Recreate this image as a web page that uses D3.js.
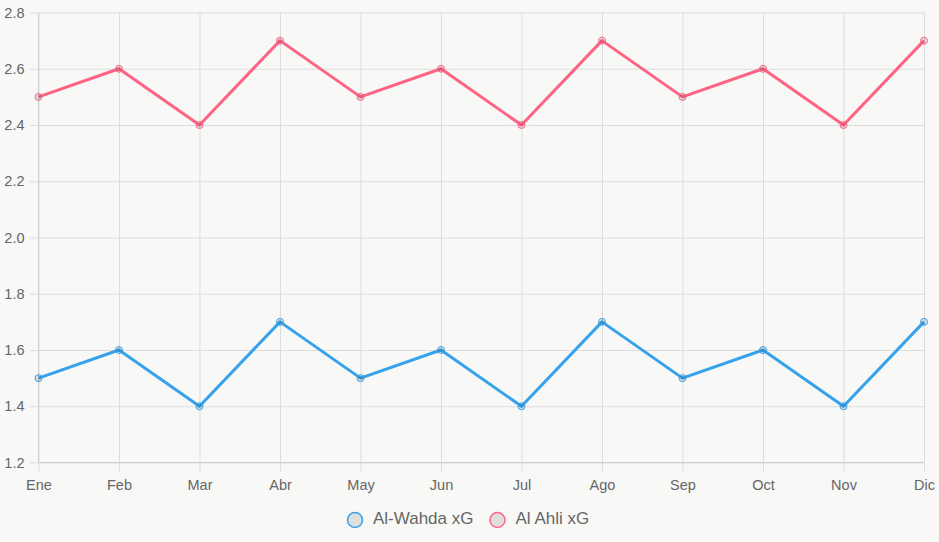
<!DOCTYPE html>
<html><head><meta charset="utf-8">
<script src="https://cdn.jsdelivr.net/npm/d3@7"></script>
<style>html,body{margin:0;padding:0;background:#f8f8f7;}svg{display:block;font-family:"Liberation Sans",Arial,Helvetica,sans-serif;}</style>
</head><body>
<svg id="c" width="939" height="542"></svg>
<script>
const months = ["Ene","Feb","Mar","Abr","May","Jun","Jul","Ago","Sep","Oct","Nov","Dic"];
const wahda = [1.5,1.6,1.4,1.7,1.5,1.6,1.4,1.7,1.5,1.6,1.4,1.7];
const ahli = [2.5,2.6,2.4,2.7,2.5,2.6,2.4,2.7,2.5,2.6,2.4,2.7];
const yTicks = [1.2,1.4,1.6,1.8,2.0,2.2,2.4,2.6,2.8];
const seriesNames = ["Al-Wahda xG","Al Ahli xG"];
const seriesColors = ["#36a2eb","#ff6384"];

const svg = d3.select("#c");
const L = 38.5, R = 924, T = 12.5, B = 462.5;
const x = d3.scalePoint().domain(months).range([L, R]);
const y = d3.scaleLinear().domain([1.2, 2.8]).range([B, T]);
const grid = "#dddddd";

const gy = svg.append("g").attr("transform", `translate(${L},0)`)
  .call(d3.axisLeft(y).tickValues(yTicks).tickFormat(d3.format(".1f")).tickSize(9).tickPadding(5));
gy.select(".domain").remove();
gy.selectAll(".tick line").attr("stroke", grid);
gy.selectAll(".tick").append("line").attr("x1", 0).attr("x2", R - L).attr("stroke", grid);
gy.selectAll("text").attr("fill", "#666").attr("font-size", 14.5);

const gx = svg.append("g").attr("transform", `translate(0,${B})`)
  .call(d3.axisBottom(x).tickSize(9).tickPadding(8.5));
gx.select(".domain").remove();
gx.selectAll(".tick line").attr("stroke", grid);
gx.selectAll(".tick").append("line").attr("y1", 0).attr("y2", -(B - T)).attr("stroke", grid);
gx.selectAll("text").attr("fill", "#666").attr("font-size", 14.5);

svg.append("line").attr("x1", L).attr("x2", L).attr("y1", T).attr("y2", B).attr("stroke", "#cfcfcf");
svg.append("line").attr("x1", L).attr("x2", R).attr("y1", B).attr("y2", B).attr("stroke", "#cfcfcf");

const data = [wahda, ahli];
const line = d3.line().x((d, i) => x(months[i])).y(d => y(d));
data.forEach((vals, k) => {
  svg.append("path").datum(vals).attr("d", line).attr("fill", "none")
    .attr("stroke", seriesColors[k]).attr("stroke-width", 3).attr("stroke-linejoin", "round");
  svg.append("g").selectAll("circle").data(vals).join("circle")
    .attr("cx", (d, i) => x(months[i])).attr("cy", d => y(d)).attr("r", 3.5)
    .attr("fill", "rgba(0,0,0,0.1)").attr("stroke", seriesColors[k]).attr("stroke-width", 1);
});

const legX = [355, 497.5];
seriesNames.forEach((n, k) => {
  svg.append("circle").attr("cx", legX[k]).attr("cy", 520).attr("r", 7.5)
    .attr("fill", "rgba(0,0,0,0.1)").attr("stroke", seriesColors[k]).attr("stroke-width", 1.5);
  svg.append("text").attr("x", legX[k] + 18).attr("y", 524)
    .attr("fill", "#666").attr("font-size", 17).text(n);
});
</script>
</body></html>
